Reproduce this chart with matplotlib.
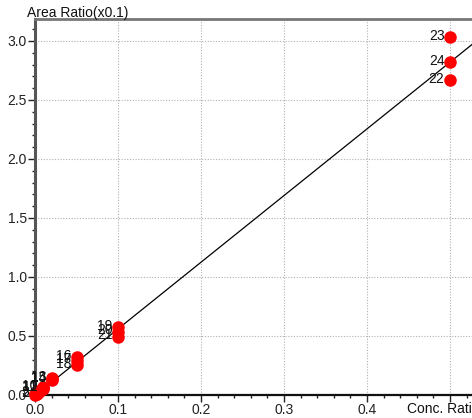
import numpy as np
import matplotlib.pyplot as plt
from matplotlib.ticker import MultipleLocator, FuncFormatter

plt.rcParams['font.family'] = ['Liberation Sans', 'DejaVu Sans']

# calibration points: id, concentration ratio, area ratio (x0.1)
ids = list(range(1, 25))
conc = [0.0, 0.0, 0.0, 0.002, 0.002, 0.002, 0.005, 0.005, 0.005,
        0.01, 0.01, 0.01, 0.02, 0.02, 0.02, 0.05, 0.05, 0.05,
        0.1, 0.1, 0.1, 0.5, 0.5, 0.5]
area = [0.0, 0.005, 0.01, 0.012, 0.014, 0.013, 0.03, 0.028, 0.032,
        0.065, 0.06, 0.055, 0.14, 0.135, 0.13, 0.32, 0.29, 0.255,
        0.575, 0.535, 0.495, 2.67, 3.03, 2.82]
# only the first and last few labels are readable near the origin
shown = [2, 3, 10, 11, 12, 13, 14, 15, 16, 17, 18, 19, 20, 21, 22, 23, 24]

slope = 5.65
intercept = -0.005

fig = plt.figure(figsize=(4.72, 4.18), dpi=100)
ax = fig.add_axes([35 / 472, 1 - 395 / 418, 437 / 472, 376 / 418])

xmax = 0.5265
ymax = 3.186
ax.set_xlim(0, xmax)
ax.set_ylim(0, ymax)

xs = np.array([0, xmax])
ax.plot(xs, slope * xs + intercept, color='black', lw=0.9, zorder=2)

ax.plot(conc, area, 'o', color='#ff0000', ms=8, mec='#ff0000',
        zorder=3, clip_on=False)

for i, x, y in zip(ids, conc, area):
    if i in shown:
        ax.annotate(str(i), (x, y), xytext=(-4, 1), textcoords='offset points',
                    ha='right', va='center', fontsize=10, color='#111111',
                    annotation_clip=False, zorder=4)

ax.xaxis.set_major_locator(MultipleLocator(0.1))
ax.xaxis.set_minor_locator(MultipleLocator(0.02))
ax.yaxis.set_major_locator(MultipleLocator(0.5))
ax.yaxis.set_minor_locator(MultipleLocator(0.1))
# the axis title takes the place of the last x tick label
ax.xaxis.set_major_formatter(FuncFormatter(lambda v, p: '' if v > 0.45 else '%.1f' % v))
ax.yaxis.set_major_formatter(plt.FormatStrFormatter('%.1f'))

ax.grid(True, which='major', color='#b0b0b0', ls=(0, (1, 1.5)), lw=0.8)
ax.set_axisbelow(True)

ax.tick_params(which='major', direction='out', length=5, width=1,
               labelsize=10, colors='#222222', pad=1)
ax.tick_params(which='minor', direction='out', length=2.5, width=1,
               colors='#222222')

ax.spines['right'].set_visible(False)
ax.spines['left'].set_color('#555555')
ax.spines['left'].set_linewidth(2.2)
ax.spines['top'].set_color('#777777')
ax.spines['top'].set_linewidth(2)
ax.spines['bottom'].set_color('#111111')
ax.spines['bottom'].set_linewidth(1.6)

fig.text(27 / 472, 1 - 13 / 418, 'Area Ratio(x0.1)', fontsize=10,
         ha='left', va='center', color='#111111')
fig.text(407 / 472, 1 - 409 / 418, 'Conc. Ratio', fontsize=10,
         ha='left', va='center', color='#111111')

fig.savefig('out.png', dpi=100)
